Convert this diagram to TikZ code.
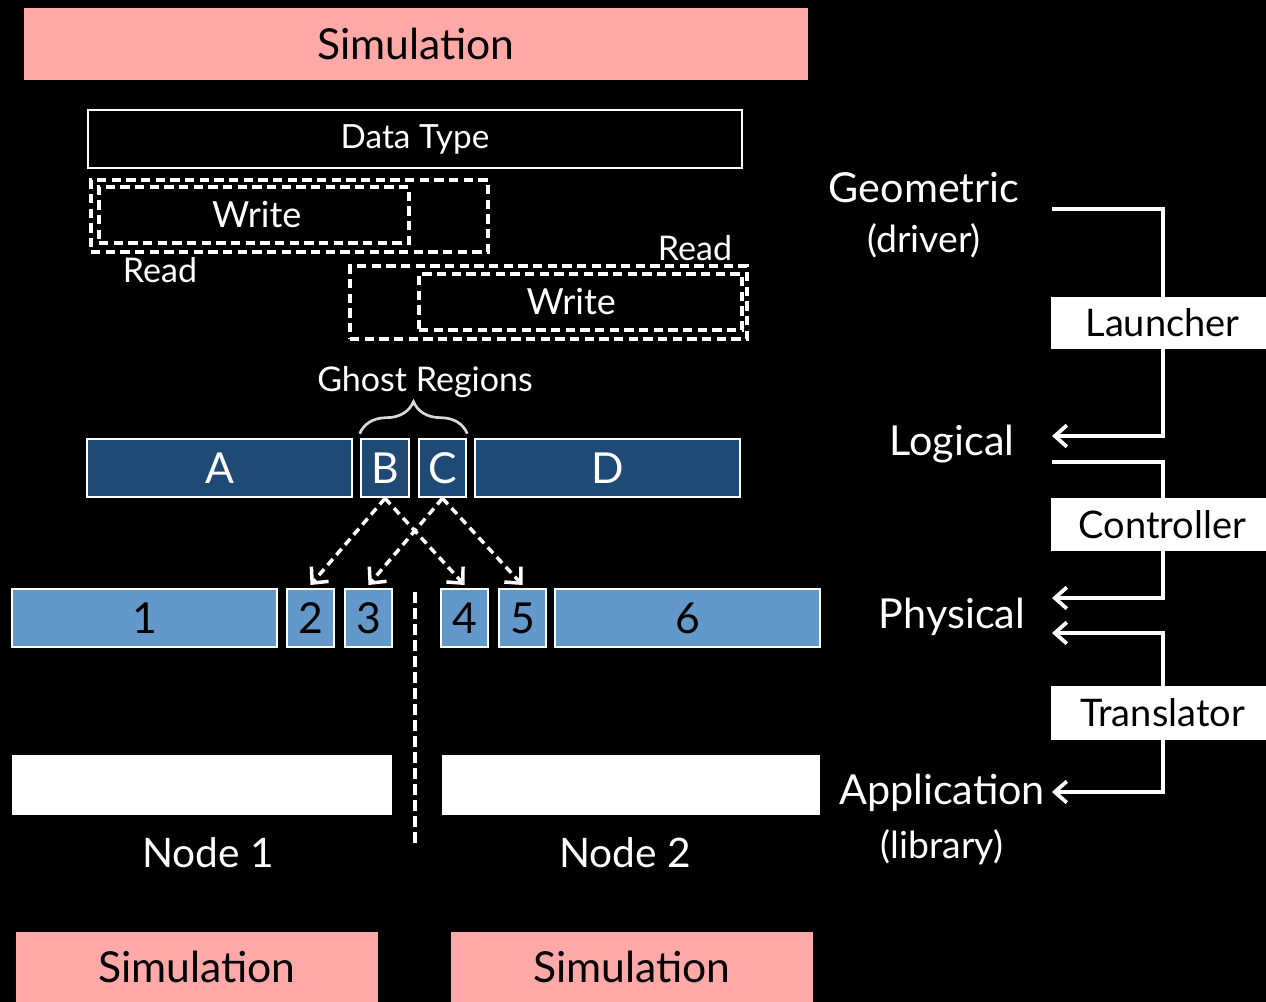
\documentclass[tikz,border=0pt]{standalone}
\usepackage{fontspec}
\setmainfont{Lato}
\usetikzlibrary{arrows.meta,fit,decorations.pathreplacing}
\definecolor{simpink}{HTML}{FFA8A8}
\definecolor{darkblue}{HTML}{1F4A76}
\definecolor{lightblue}{HTML}{6399CA}
\newcommand{\fsz}[1]{\fontsize{#1}{#1}\selectfont}
\tikzset{
  pinkbar/.style={fill=simpink,draw=none,inner sep=0pt},
  pinklbl/.style={label={[text=black,font=\fsz{32}]center:#1}},
  darkbox/.style={fill=darkblue,draw=white,line width=2pt,inner sep=0pt,label={[text=white,font=\fsz{32}]center:#1}},
  lightbox/.style={fill=lightblue,draw=white,line width=2pt,inner sep=0pt,label={[text=black,font=\fsz{32}]center:#1}},
  dashbox/.style={draw=white,line width=2.6pt,dash pattern=on 7pt off 4pt,inner sep=0pt},
  whitebox/.style={fill=white,draw=none,inner sep=0pt},
  lbl/.style={text=white,inner sep=0pt},
  tagbox/.style={fill=white,draw=none,inner sep=0pt,label={[text=black,font=\fsz{28.5},xshift=3pt]center:#1}},
  conn/.style={draw=white,line width=2.8pt,-{Straight Barb[length=9pt,width=16pt]}},
  darr/.style={draw=white,line width=2.6pt,dash pattern=on 6pt off 4pt,-{Straight Barb[length=9pt,width=17pt]}},
}
\begin{document}
\begin{tikzpicture}[x=0.75pt,y=-0.75pt]
\fill[black] (0,0) rectangle (1266,1002);
\useasboundingbox (0,0) rectangle (1266,1002);
% top simulation
\node[pinkbar,pinklbl=Simulation,fit={(24,8)(808,80)}] (simtop) {};
% data type
\node[draw=white,line width=2pt,fill=black,inner sep=0pt,label={[text=white,font=\fsz{25}]center:Data Type},fit={(88,110)(742,168)}] (dtype) {};
% dashed boxes
\node[dashbox,fit={(91,180)(488,252)}] (read1) {};
\node[dashbox,label={[text=white,font=\fsz{27},xshift=2pt]center:Write},fit={(99,187)(409,243)}] (write1) {};
\node[lbl,font=\fsz{25.5}] (read1l) at (160,270) {Read};
\node[dashbox,fit={(350,266)(747,339)}] (read2) {};
\node[dashbox,label={[text=white,font=\fsz{27},xshift=-7pt]center:Write},fit={(419,274)(742,330)}] (write2) {};
\node[lbl,font=\fsz{25.5}] (read2l) at (695,248) {Read};
% ghost regions
\node[lbl,font=\fsz{25.5}] (ghost) at (425,382) {Ghost Regions};
% row 1
\node[darkbox=A,fit={(87,439)(352,497)}] (A) {};
\node[darkbox=B,fit={(361,439)(409,497)}] (B) {};
\node[darkbox=C,fit={(419,439)(466,497)}] (C) {};
\node[darkbox=D,fit={(475,439)(740,497)}] (D) {};
\draw[draw=white!85!black,line width=2pt,decorate,decoration={brace,amplitude=24pt,aspect=0.5}] ([yshift=3pt]B.north west) -- ([yshift=3pt]C.north east);
% row 2
\node[lightbox=1,fit={(12,589)(277,647)}] (p1) {};
\node[lightbox=2,fit={(287,589)(334,647)}] (p2) {};
\node[lightbox=3,fit={(345,589)(392,647)}] (p3) {};
\node[lightbox=4,fit={(441,589)(488,647)}] (p4) {};
\node[lightbox=5,fit={(499,589)(546,647)}] (p5) {};
\node[lightbox=6,fit={(555,589)(820,647)}] (p6) {};
\draw[darr] (B.south) -- ([yshift=2pt]p2.north);
\draw[darr] (B.south) -- ([yshift=2pt]p4.north);
\draw[darr] (C.south) -- ([yshift=2pt]p3.north);
\draw[darr] (C.south) -- ([yshift=2pt]p5.north);
% divider
\coordinate (divtop) at (415,592);
\coordinate (divbot) at (415,845);
\draw[white,line width=2.4pt,dash pattern=on 8pt off 4pt] (divtop) -- (divbot);
% node boxes
\node[whitebox,fit={(12,755)(392,815)}] (n1box) {};
\node[whitebox,fit={(442,755)(820,815)}] (n2box) {};
\node[lbl,font=\fsz{30.5}] (n1) at (208,853) {Node 1};
\node[lbl,font=\fsz{30.5}] (n2) at (625,853) {Node 2};
% bottom simulation
\node[pinkbar,pinklbl=Simulation,fit={(16,932)(378,1002)}] (simb1) {};
\node[pinkbar,pinklbl=Simulation,fit={(451,932)(813,1002)}] (simb2) {};
% right side
\node[lbl,font=\fsz{31}] (geo) at (924,188) {Geometric};
\node[lbl,font=\fsz{28}] (driver) at (924,241) {(driver)};
\node[lbl,font=\fsz{31}] (logical) at (952,444) {Logical};
\node[lbl,font=\fsz{31}] (physical) at (952,617) {Physical};
\node[lbl,font=\fsz{31}] (app) at (942,793) {Application};
\node[lbl,font=\fsz{28}] (lib) at (942,847) {(library)};
\coordinate (g1) at (1052,209);
\coordinate (l1) at (1052,436);
\coordinate (l2) at (1052,462);
\coordinate (ph1) at (1052,598);
\coordinate (ph2) at (1052,633);
\coordinate (ap1) at (1052,792);
\draw[conn] (g1) -- (1163,209) -- (1163,436) -- (l1);
\draw[conn] (l2) -- (1163,462) -- (1163,598) -- (ph1);
\draw[conn,{Straight Barb[length=9pt,width=16pt]}-{Straight Barb[length=9pt,width=16pt]}] (ph2) -- (1163,633) -- (1163,792) -- (ap1);
\node[tagbox=Launcher,fit={(1051,297)(1266,349)}] (launcher) {};
\node[tagbox=Controller,fit={(1051,498)(1266,551)}] (controller) {};
\node[tagbox=Translator,fit={(1051,686)(1266,740)}] (translator) {};
\end{tikzpicture}
\end{document}
